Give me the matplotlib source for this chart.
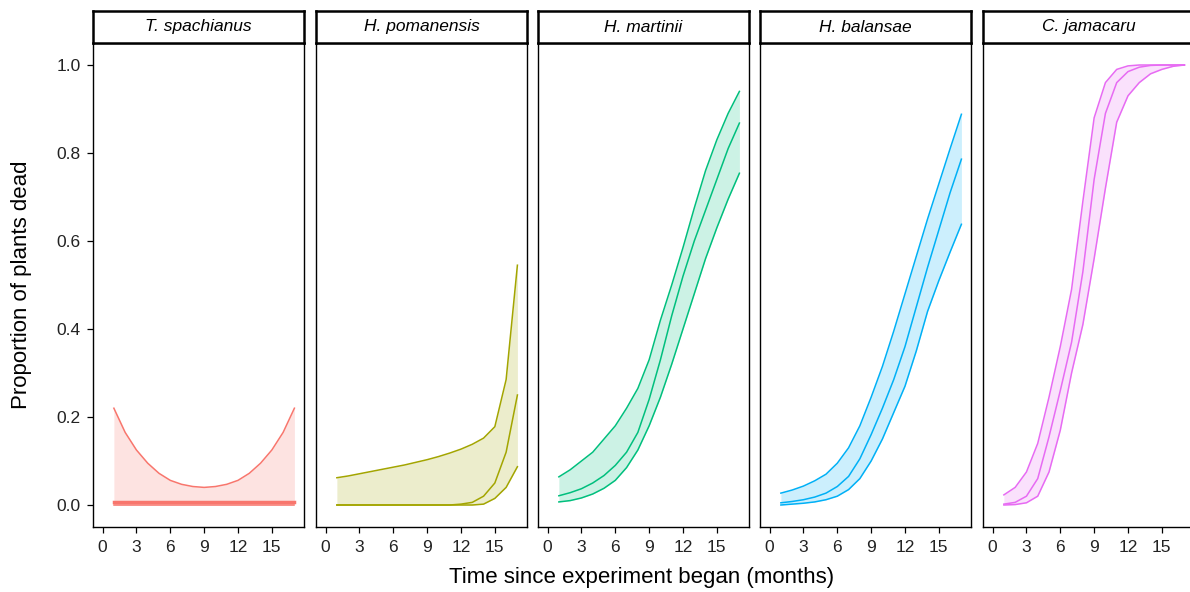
import matplotlib
matplotlib.use("Agg")
import matplotlib.pyplot as plt

plt.rcParams['font.family'] = ['Liberation Sans', 'DejaVu Sans']

months = list(range(1, 18))

species = ["T. spachianus", "H. pomanensis", "H. martinii", "H. balansae", "C. jamacaru"]
colors = ["#F8766D", "#A3A500", "#00BF7D", "#00B0F6", "#E76BF3"]

# upper / fitted / lower proportion dead
spach_upper = [0.22, 0.165, 0.125, 0.095, 0.072, 0.056, 0.047, 0.042, 0.040, 0.042, 0.047, 0.056, 0.072, 0.095, 0.125, 0.165, 0.22]
spach_mean = [0.006] * 17
spach_lower = [0.0] * 17

poman_upper = [0.062, 0.066, 0.071, 0.076, 0.081, 0.086, 0.091, 0.097, 0.103, 0.110, 0.118, 0.127, 0.138, 0.152, 0.178, 0.285, 0.545]
poman_mean = [0.0, 0.0, 0.0, 0.0, 0.0, 0.0, 0.0, 0.0, 0.0, 0.0, 0.0, 0.002, 0.006, 0.02, 0.05, 0.12, 0.25]
poman_lower = [0.0, 0.0, 0.0, 0.0, 0.0, 0.0, 0.0, 0.0, 0.0, 0.0, 0.0, 0.0, 0.0, 0.002, 0.015, 0.04, 0.087]

mart_upper = [0.064, 0.08, 0.10, 0.12, 0.15, 0.18, 0.22, 0.265, 0.33, 0.42, 0.50, 0.585, 0.675, 0.76, 0.83, 0.89, 0.94]
mart_mean = [0.021, 0.028, 0.037, 0.05, 0.067, 0.09, 0.12, 0.165, 0.24, 0.33, 0.43, 0.52, 0.60, 0.67, 0.74, 0.81, 0.868]
mart_lower = [0.007, 0.01, 0.016, 0.025, 0.038, 0.056, 0.085, 0.125, 0.18, 0.245, 0.32, 0.40, 0.48, 0.56, 0.63, 0.695, 0.754]

bal_upper = [0.027, 0.034, 0.043, 0.055, 0.07, 0.095, 0.13, 0.18, 0.245, 0.315, 0.395, 0.48, 0.565, 0.65, 0.73, 0.81, 0.888]
bal_mean = [0.005, 0.008, 0.012, 0.018, 0.027, 0.042, 0.065, 0.105, 0.16, 0.22, 0.285, 0.36, 0.45, 0.54, 0.625, 0.71, 0.786]
bal_lower = [0.0, 0.002, 0.004, 0.007, 0.012, 0.02, 0.035, 0.06, 0.10, 0.15, 0.21, 0.27, 0.35, 0.44, 0.51, 0.575, 0.638]

jam_upper = [0.023, 0.04, 0.075, 0.14, 0.245, 0.36, 0.49, 0.69, 0.88, 0.96, 0.99, 0.998, 1.0, 1.0, 1.0, 1.0, 1.0]
jam_mean = [0.002, 0.006, 0.02, 0.06, 0.155, 0.26, 0.37, 0.53, 0.74, 0.89, 0.96, 0.985, 0.995, 0.999, 1.0, 1.0, 1.0]
jam_lower = [0.0, 0.001, 0.005, 0.02, 0.075, 0.17, 0.30, 0.41, 0.56, 0.72, 0.87, 0.93, 0.96, 0.98, 0.99, 0.997, 1.0]

uppers = [spach_upper, poman_upper, mart_upper, bal_upper, jam_upper]
means = [spach_mean, poman_mean, mart_mean, bal_mean, jam_mean]
lowers = [spach_lower, poman_lower, mart_lower, bal_lower, jam_lower]

W, H = 1190, 592
fig = plt.figure(figsize=(W / 100, H / 100), dpi=100)

lefts = [93, 316, 538, 760, 983]
pw = 211
top, bottom = 43, 527
strip_top = 11

for i, name in enumerate(species):
    l = lefts[i]
    ax = fig.add_axes([l / W, 1 - bottom / H, pw / W, (bottom - top) / H])
    c = colors[i]
    ax.fill_between(months, lowers[i], uppers[i], color=c, alpha=0.2, lw=0)
    ax.plot(months, uppers[i], color=c, lw=1.1)
    ax.plot(months, means[i], color=c, lw=1.1)
    ax.plot(months, lowers[i], color=c, lw=1.1)
    if i == 0:
        ax.plot(months, means[i], color=c, lw=2.5)
    ax.set_xlim(-0.85, 17.85)
    ax.set_ylim(-0.05, 1.05)
    ax.set_xticks([0, 3, 6, 9, 12, 15])
    ax.set_yticks([0.0, 0.2, 0.4, 0.6, 0.8, 1.0])
    ax.tick_params(colors='black', labelcolor='#222222', labelsize=12.5, length=4, width=0.9, pad=5)
    if i == 0:
        ax.set_yticklabels(["0.0", "0.2", "0.4", "0.6", "0.8", "1.0"])
    else:
        ax.tick_params(axis='y', left=False, labelleft=False)
    for s in ax.spines.values():
        s.set_linewidth(1.0)
        s.set_color('black')

    sax = fig.add_axes([l / W, 1 - top / H, pw / W, (top - strip_top) / H])
    sax.set_xticks([])
    sax.set_yticks([])
    for s in sax.spines.values():
        s.set_linewidth(1.8)
        s.set_color('black')
    sax.text(0.5, 0.5, name, ha='center', va='center', fontsize=12.5, style='italic',
             transform=sax.transAxes)

fig.text(22 / W, 1 - 285 / H, "Proportion of plants dead", ha='center', va='center',
         rotation=90, fontsize=16)
fig.text(642 / W, 1 - 577 / H, "Time since experiment began (months)", ha='center', va='center', fontsize=16)

fig.savefig("out.png", dpi=100)
